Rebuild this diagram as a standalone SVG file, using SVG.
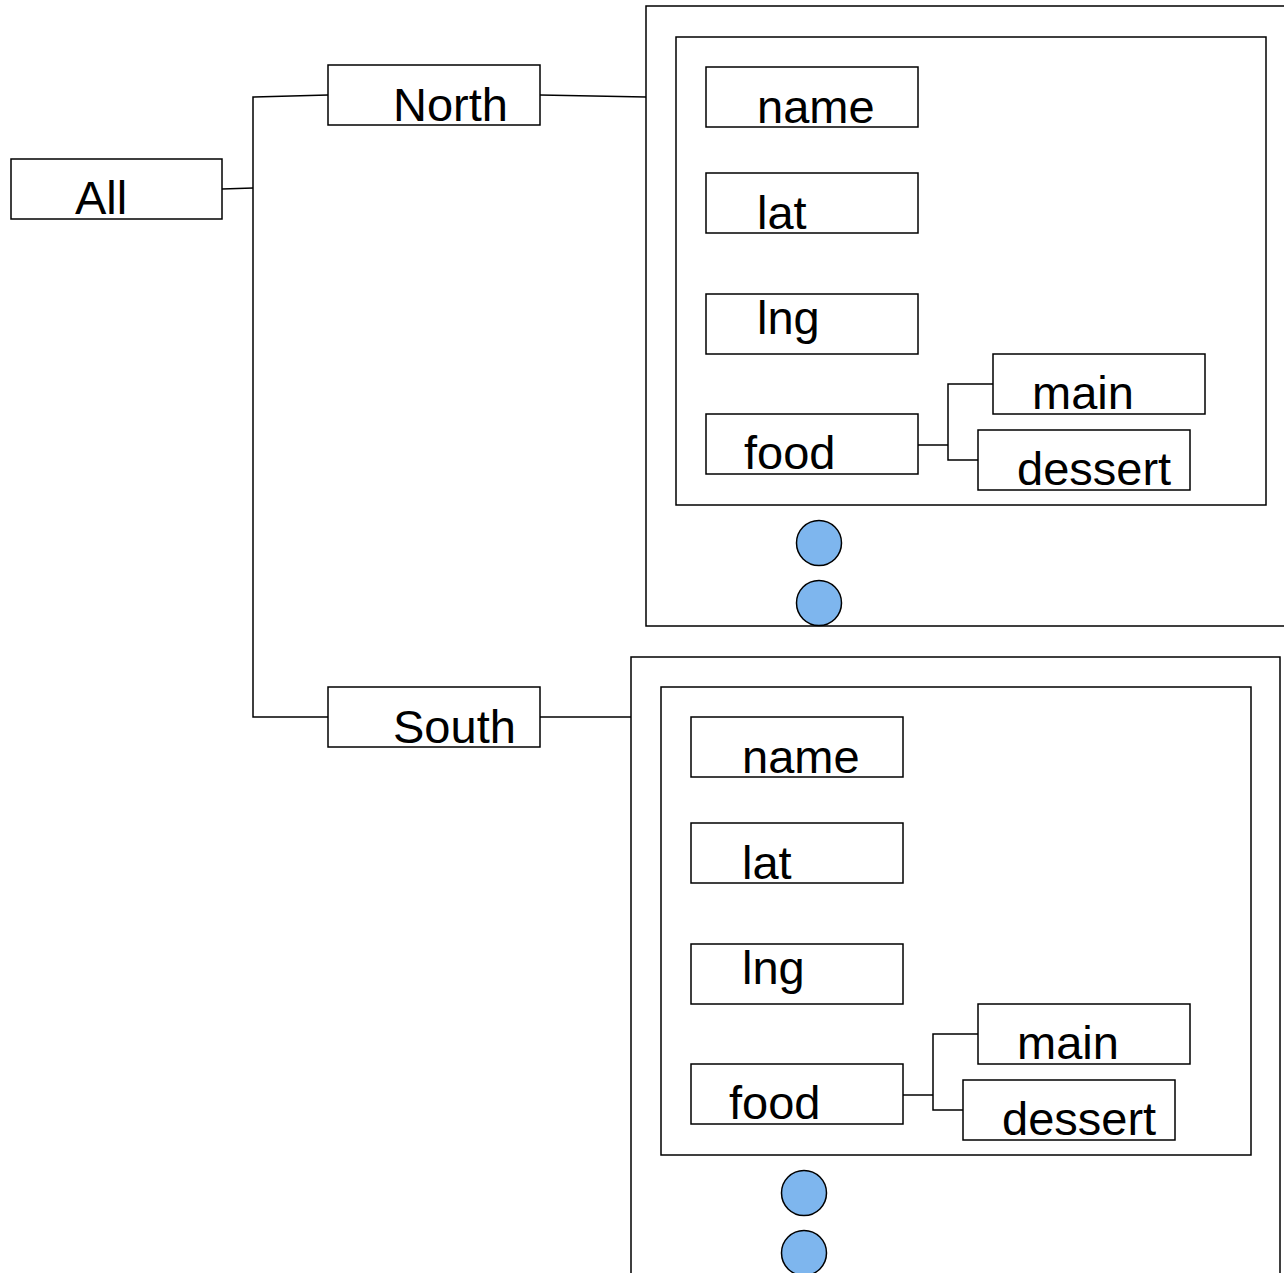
<svg xmlns="http://www.w3.org/2000/svg" width="1284" height="1273" viewBox="0 0 1284 1273">
<style>
.box{fill:#fff;stroke:#000;stroke-width:1.5}
.frame{fill:none;stroke:#000;stroke-width:1.5}
.lbl{font-family:"Liberation Sans",Arial,sans-serif;font-size:47px;fill:#000}
.dot{fill:#7EB6EE;stroke:#000;stroke-width:1.5}
.conn{fill:none;stroke:#000;stroke-width:1.5}
</style>
<rect width="1284" height="1273" fill="#fff"/>
<g id="north-frame"><rect class="frame" x="646" y="6" width="660" height="620"/><rect class="frame" x="676" y="37" width="590" height="468"/></g>
<g id="south-frame"><rect class="frame" x="631" y="657" width="649" height="640"/><rect class="frame" x="661" y="687" width="590" height="468"/></g>
<g id="connectors">
<polyline class="conn" points="222,189 253,188"/>
<polyline class="conn" points="328,95 253,97 253,717 328,717"/>
<polyline class="conn" points="540,95 646,97"/>
<polyline class="conn" points="540,717 631,717"/>
<polyline class="conn" points="918,445 948,445"/>
<polyline class="conn" points="993,384 948,384 948,460 978,460"/>
<polyline class="conn" points="903,1095 933,1095"/>
<polyline class="conn" points="978,1034 933,1034 933,1110 963,1110"/>
</g>
<g id="all"><rect class="box" x="11" y="159" width="211" height="60"/><text class="lbl" x="75" y="214">All</text></g>
<g id="north"><rect class="box" x="328" y="65" width="212" height="60"/><text class="lbl" x="393" y="121">North</text></g>
<g id="south"><rect class="box" x="328" y="687" width="212" height="60"/><text class="lbl" x="393" y="743">South</text></g>
<g id="n-name"><rect class="box" x="706" y="67" width="212" height="60"/><text class="lbl" x="757" y="123">name</text></g>
<g id="n-lat"><rect class="box" x="706" y="173" width="212" height="60"/><text class="lbl" x="757" y="229">lat</text></g>
<g id="n-lng"><rect class="box" x="706" y="294" width="212" height="60"/><text class="lbl" x="757" y="334">lng</text></g>
<g id="n-food"><rect class="box" x="706" y="414" width="212" height="60"/><text class="lbl" x="744" y="469">food</text></g>
<g id="n-main"><rect class="box" x="993" y="354" width="212" height="60"/><text class="lbl" x="1032" y="409">main</text></g>
<g id="n-dessert"><rect class="box" x="978" y="430" width="212" height="60"/><text class="lbl" x="1017" y="485">dessert</text></g>
<g id="n-dot1"><circle class="dot" cx="819" cy="543" r="22.5"/></g>
<g id="n-dot2"><circle class="dot" cx="819" cy="603" r="22.5"/></g>
<g id="s-name"><rect class="box" x="691" y="717" width="212" height="60"/><text class="lbl" x="742" y="773">name</text></g>
<g id="s-lat"><rect class="box" x="691" y="823" width="212" height="60"/><text class="lbl" x="742" y="879">lat</text></g>
<g id="s-lng"><rect class="box" x="691" y="944" width="212" height="60"/><text class="lbl" x="742" y="984">lng</text></g>
<g id="s-food"><rect class="box" x="691" y="1064" width="212" height="60"/><text class="lbl" x="729" y="1119">food</text></g>
<g id="s-main"><rect class="box" x="978" y="1004" width="212" height="60"/><text class="lbl" x="1017" y="1059">main</text></g>
<g id="s-dessert"><rect class="box" x="963" y="1080" width="212" height="60"/><text class="lbl" x="1002" y="1135">dessert</text></g>
<g id="s-dot1"><circle class="dot" cx="804" cy="1193" r="22.5"/></g>
<g id="s-dot2"><circle class="dot" cx="804" cy="1253" r="22.5"/></g>
</svg>
